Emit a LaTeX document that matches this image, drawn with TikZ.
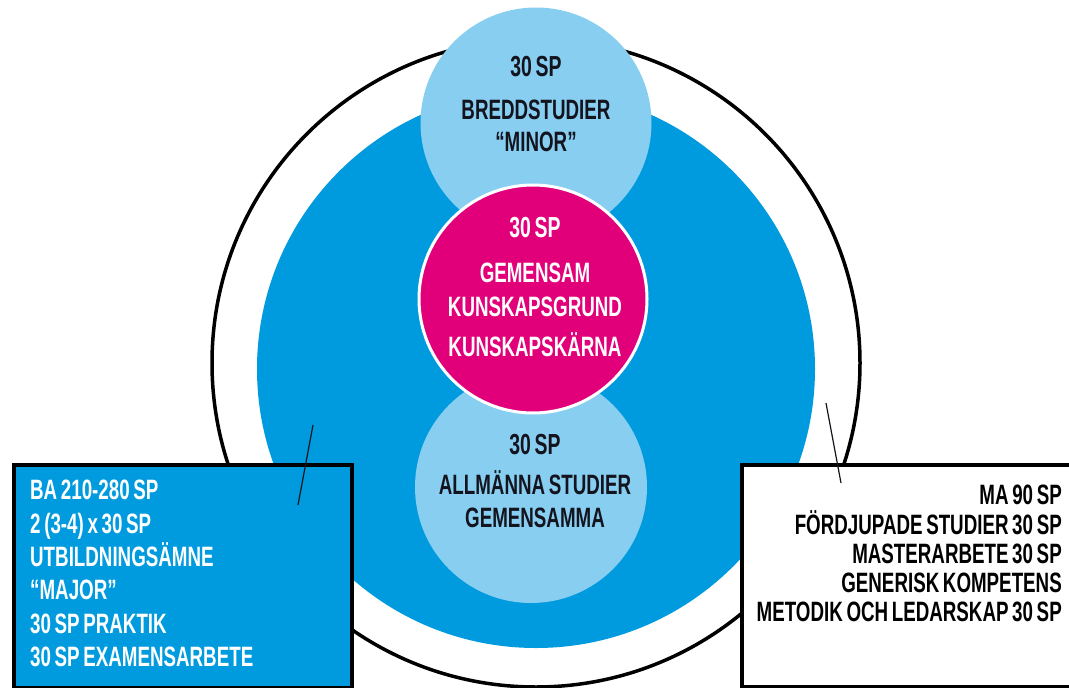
\documentclass[tikz,border=0pt]{standalone}
\usepackage{fontspec}
\setmainfont{Liberation Sans}[FakeStretch=0.67, WordSpace=0.7]
\usepackage{xcolor}
\usepackage{tikz}
\usetikzlibrary{positioning, calc}
\definecolor{majorBlue}{RGB}{0,155,222}
\definecolor{minorBlue}{RGB}{135,206,241}
\definecolor{coreMagenta}{RGB}{226,0,122}
\definecolor{inkColor}{RGB}{20,20,30}
\tikzset{
    disc/.style={
        circle,
        inner sep=0pt,
        draw=none
    },
    ringnode/.style={disc, draw=black, line width=3.5pt, fill=white},
    satnode/.style={disc, fill=minorBlue},
    corenode/.style={disc, fill=coreMagenta, draw=white, line width=3pt},
    infobox/.style={
        rectangle,
        draw=black,
        line width=4pt,
        inner sep=0pt,
        anchor=north west
    },
    circtext/.style={
        align=center,
        inner sep=0pt,
        anchor=north,
        text=inkColor
    },
    boxtext/.style={
        inner sep=0pt,
        font=\bfseries\fontsize{28}{33.4}\selectfont
    },
    ptr/.style={
        draw=inkColor,
        line width=1.2pt
    }
}

\begin{document}
\begin{tikzpicture}[x=1pt, y=-1pt]
    \useasboundingbox (0,0) rectangle (1069,688);
    \clip (0,0) rectangle (1069,688);

    \node[ringnode, minimum size=648pt] (Outer) at (536,363) {};
    \node[disc, fill=majorBlue, minimum size=558pt] (Major) at (536,369) {};
    \node[satnode, minimum size=231pt] (Minor) at (536,123) {};
    \node[satnode, minimum size=232pt] (General) at (531,487) {};
    \node[corenode, minimum size=228pt] (Core) at (533,299) {};

    \node[circtext, font=\bfseries\fontsize{28}{32}\selectfont] (MinorText) at (536,56)
        {{\fontsize{29}{32}\selectfont 30 SP}\\[11pt] BREDDSTUDIER\\ “MINOR”};
    \node[circtext, text=white, font=\bfseries\fontsize{28}{34}\selectfont] (CoreText) at (535,217)
        {{\fontsize{29}{34}\selectfont 30 SP}\\[11pt] GEMENSAM\\ KUNSKAPSGRUND\\[6pt] KUNSKAPSKÄRNA};
    \node[circtext, font=\bfseries\fontsize{28}{33}\selectfont] (GeneralText) at (535,434)
        {{\fontsize{29}{33}\selectfont 30 SP}\\[7pt] ALLMÄNNA STUDIER\\ GEMENSAMMA};

    % rutor
    \node[infobox, fill=majorBlue, minimum width=338pt, minimum height=223pt] (BaBox) at (12,463) {};
    \node[boxtext, anchor=north west, align=left, text=white] (BaText) at (30,480)
        {BA 210-280 SP\\ 2 (3-4) x 30 SP\\ UTBILDNINGSÄMNE\\ “MAJOR”\\ 30 SP PRAKTIK\\ 30 SP EXAMENSARBETE};
    \node[infobox, fill=white, minimum width=340pt, minimum height=222pt] (MaBox) at (740,463) {};
    \node[boxtext, anchor=north east, align=right, font=\bfseries\fontsize{28}{29.3}\selectfont] (MaText) at (1062,485)
        {MA 90 SP\\ FÖRDJUPADE STUDIER 30 SP\\ MASTERARBETE 30 SP\\ GENERISK KOMPETENS\\ METODIK OCH LEDARSKAP 30 SP};

    \coordinate (BaTip) at (313,425);
    \coordinate (BaFoot) at (298,505);
    \coordinate (MaTip) at (826,403);
    \coordinate (MaFoot) at (841,483);
    \draw[ptr] (BaTip) -- (BaFoot);
    \draw[ptr] (MaTip) -- (MaFoot);
\end{tikzpicture}
\end{document}
